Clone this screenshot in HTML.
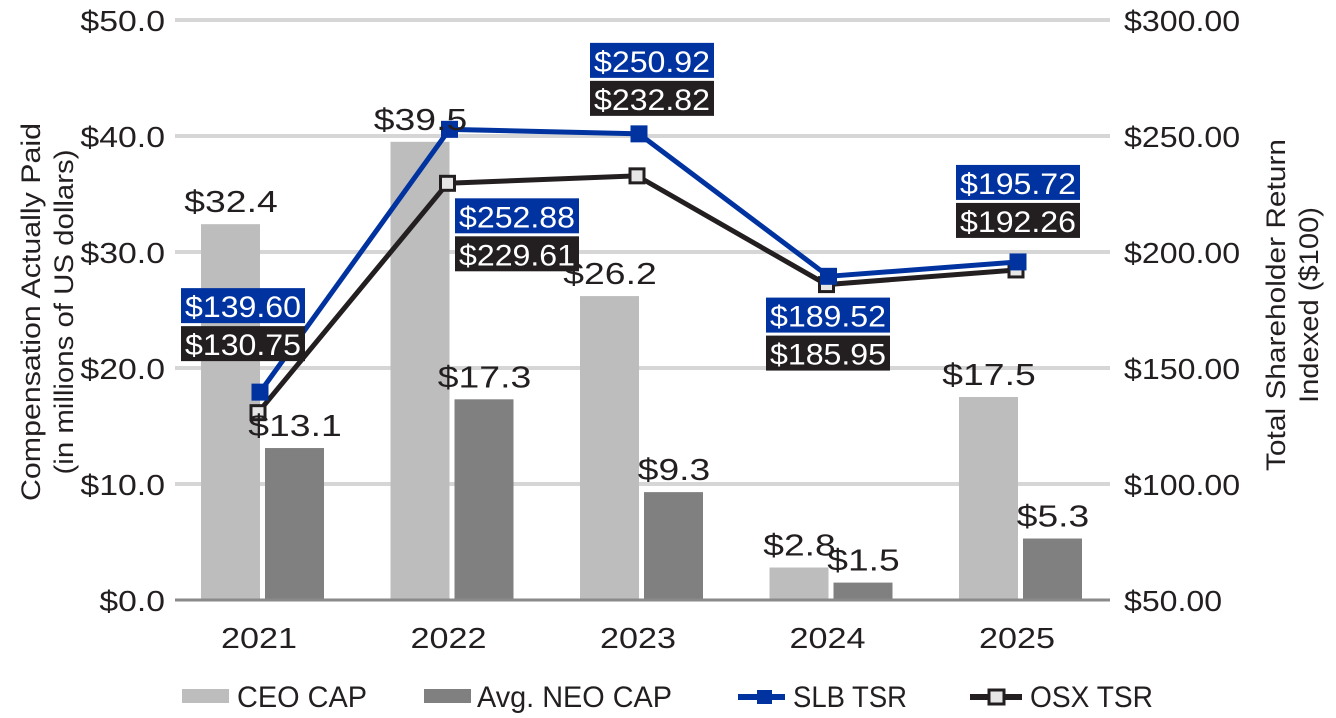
<!DOCTYPE html>
<html><head><meta charset="utf-8"><style>
html,body{margin:0;padding:0;background:#fff;}
svg{display:block;font-family:"Liberation Sans",sans-serif;}
</style></head><body>
<svg id="chart" width="1336" height="718" viewBox="0 0 1336 718" xmlns="http://www.w3.org/2000/svg">
<g id="grid"></g>
<g id="bars"></g>
<g id="lines"></g>
<g id="labels"></g>
<g id="axes"></g>
<text transform="translate(40,312) rotate(-90)" text-anchor="middle" font-size="27" fill="#231f20"><tspan x="0" dy="0" textLength="378" lengthAdjust="spacingAndGlyphs">Compensation Actually Paid</tspan><tspan x="0" dy="33" textLength="325" lengthAdjust="spacingAndGlyphs">(in millions of US dollars)</tspan></text>
<text transform="translate(1285,305) rotate(-90)" text-anchor="middle" font-size="27" fill="#231f20"><tspan x="0" dy="0" textLength="332" lengthAdjust="spacingAndGlyphs">Total Shareholder Return</tspan><tspan x="0" dy="33" textLength="196" lengthAdjust="spacingAndGlyphs">Indexed ($100)</tspan></text>
<g font-size="30" fill="#231f20">
<rect x="182" y="689" width="47" height="14" fill="#bdbdbe"/>
<text x="237" y="707" textLength="130" lengthAdjust="spacingAndGlyphs">CEO CAP</text>
<rect x="424" y="689" width="47" height="14" fill="#808080"/>
<text x="477" y="707" textLength="195" lengthAdjust="spacingAndGlyphs">Avg. NEO CAP</text>
<line x1="738" y1="697" x2="785" y2="697" stroke="#0033a0" stroke-width="6"/>
<rect x="757" y="690" width="15" height="14" fill="#0033a0"/>
<text x="793" y="707" textLength="114" lengthAdjust="spacingAndGlyphs">SLB TSR</text>
<line x1="970" y1="697" x2="1022" y2="697" stroke="#231f20" stroke-width="6"/>
<rect x="989" y="690" width="15" height="14" fill="#e6e6e6" stroke="#231f20" stroke-width="3"/>
<text x="1030" y="707" textLength="123" lengthAdjust="spacingAndGlyphs">OSX TSR</text>
</g>
</svg>
<script>
const years = ['2021','2022','2023','2024','2025'];
const ceoCap = [32.4, 39.5, 26.2, 2.8, 17.5];
const neoCap = [13.1, 17.3, 9.3, 1.5, 5.3];
const slbTsr = [139.60, 252.88, 250.92, 189.52, 195.72];
const osxTsr = [130.75, 229.61, 232.82, 185.95, 192.26];
const leftTicks = [0, 10, 20, 30, 40, 50];
const rightTicks = [50, 100, 150, 200, 250, 300];
const labelAbove = [true, false, true, false, true];

const NS = 'http://www.w3.org/2000/svg';
const X0 = 175, X1 = 1110, YB = 600, YT = 20;
function yL(v){ return YB - (v/50)*(YB-YT); }
function yR(v){ return YB - ((v-50)/250)*(YB-YT); }
function xC(i){ return 260 + i*189.5; }
function tl(s,k){ let n=0; for(const ch of s){ n += (ch==='.')?0.45*k:k; } return n; }
function mk(tag, attrs, parent){ const e=document.createElementNS(NS,tag); for(const k in attrs) e.setAttribute(k, attrs[k]); parent.appendChild(e); return e; }
const grid=document.getElementById('grid'), bars=document.getElementById('bars'), lines=document.getElementById('lines'), labels=document.getElementById('labels'), axes=document.getElementById('axes');

leftTicks.forEach((t,i)=>{
  if(t!==0){ const g=mk('line',{x1:X0,x2:X1,y1:yL(t),y2:yL(t),stroke:'#d6d6d6','stroke-width':4},grid);
  
   }
  const s='$'+t.toFixed(1);
  const tx=mk('text',{x:165,y:yL(t)+11,'text-anchor':'end','font-size':29,fill:'#231f20',textLength:tl(s,19),lengthAdjust:'spacingAndGlyphs'},axes);
  tx.textContent=s;
  
  
});
rightTicks.forEach(t=>{
  const s='$'+t.toFixed(2);
  const tx=mk('text',{x:1124,y:yR(t)+11,'text-anchor':'start','font-size':29,fill:'#231f20',textLength:tl(s,18),lengthAdjust:'spacingAndGlyphs'},axes);
  tx.textContent=s;
  
  
});

years.forEach((y,i)=>{
  const c=xC(i);
  const b1=mk('rect',{x:c-59,y:yL(ceoCap[i]),width:59,height:YB-yL(ceoCap[i]),fill:'#bdbdbe'},bars);
  
  
  const b2=mk('rect',{x:c+5,y:yL(neoCap[i]),width:59,height:YB-yL(neoCap[i]),fill:'#808080'},bars);
  
  
  const s1='$'+ceoCap[i].toFixed(1), s2='$'+neoCap[i].toFixed(1);
  const l1=mk('text',{x:c-29,y:yL(ceoCap[i])-12,'text-anchor':'middle','font-size':31,fill:'#231f20',textLength:tl(s1,21),lengthAdjust:'spacingAndGlyphs'},labels);
  l1.textContent=s1;
  
  
  const l2=mk('text',{x:c+35,y:yL(neoCap[i])-12,'text-anchor':'middle','font-size':31,fill:'#231f20',textLength:tl(s2,21),lengthAdjust:'spacingAndGlyphs'},labels);
  l2.textContent=s2;
  
  
  const yl=mk('text',{x:c-1,y:648,'text-anchor':'middle','font-size':29,fill:'#231f20',textLength:76,lengthAdjust:'spacingAndGlyphs'},axes);
  yl.textContent=y;
  
  
});
const base=mk('line',{x1:X0,x2:X1,y1:YB,y2:YB,stroke:'#8a8a8a','stroke-width':3},axes);



function series(vals, color, fill, name, off){
  const pts=vals.map((v,i)=>[xC(i)+off, yR(v)]);
  const p=mk('polyline',{points:pts.map(q=>q.join(',')).join(' '),fill:'none',stroke:color,'stroke-width':5,'stroke-linejoin':'round'},lines);
  
  
  pts.forEach(q=>{
    const m=mk('rect',{x:q[0]-7,y:q[1]-7,width:14,height:14,fill:fill,stroke:color,'stroke-width':3},lines);
    
    
  });
}
series(osxTsr,'#231f20','#e6e6e6','osx-tsr',-2);
series(slbTsr,'#0033a0','#0033a0','slb-tsr',0);

function box(txt,cx,top,bg,name){
  const r=mk('rect',{x:cx-62,y:top,width:124,height:35,fill:bg},labels);
  
  
  const t=mk('text',{x:cx,y:top+29,'text-anchor':'middle','font-size':30,fill:'#fff',textLength:116,lengthAdjust:'spacingAndGlyphs'},labels);
  t.textContent=txt;
  
  
}
const boxCx=[243,517,652,828,1018];
const boxOff=[-104,15,-91,13,-97];
years.forEach((y,i)=>{
  const ymin=Math.min(yR(slbTsr[i]),yR(osxTsr[i]));
  const ymax=Math.max(yR(slbTsr[i]),yR(osxTsr[i]));
  const t0 = labelAbove[i] ? ymin+boxOff[i] : ymax+boxOff[i];
  box('$'+slbTsr[i].toFixed(2),boxCx[i],t0,'#0033a0','slb-'+y);
  box('$'+osxTsr[i].toFixed(2),boxCx[i],t0+38,'#231f20','osx-'+y);
});
</script>
</body></html>
